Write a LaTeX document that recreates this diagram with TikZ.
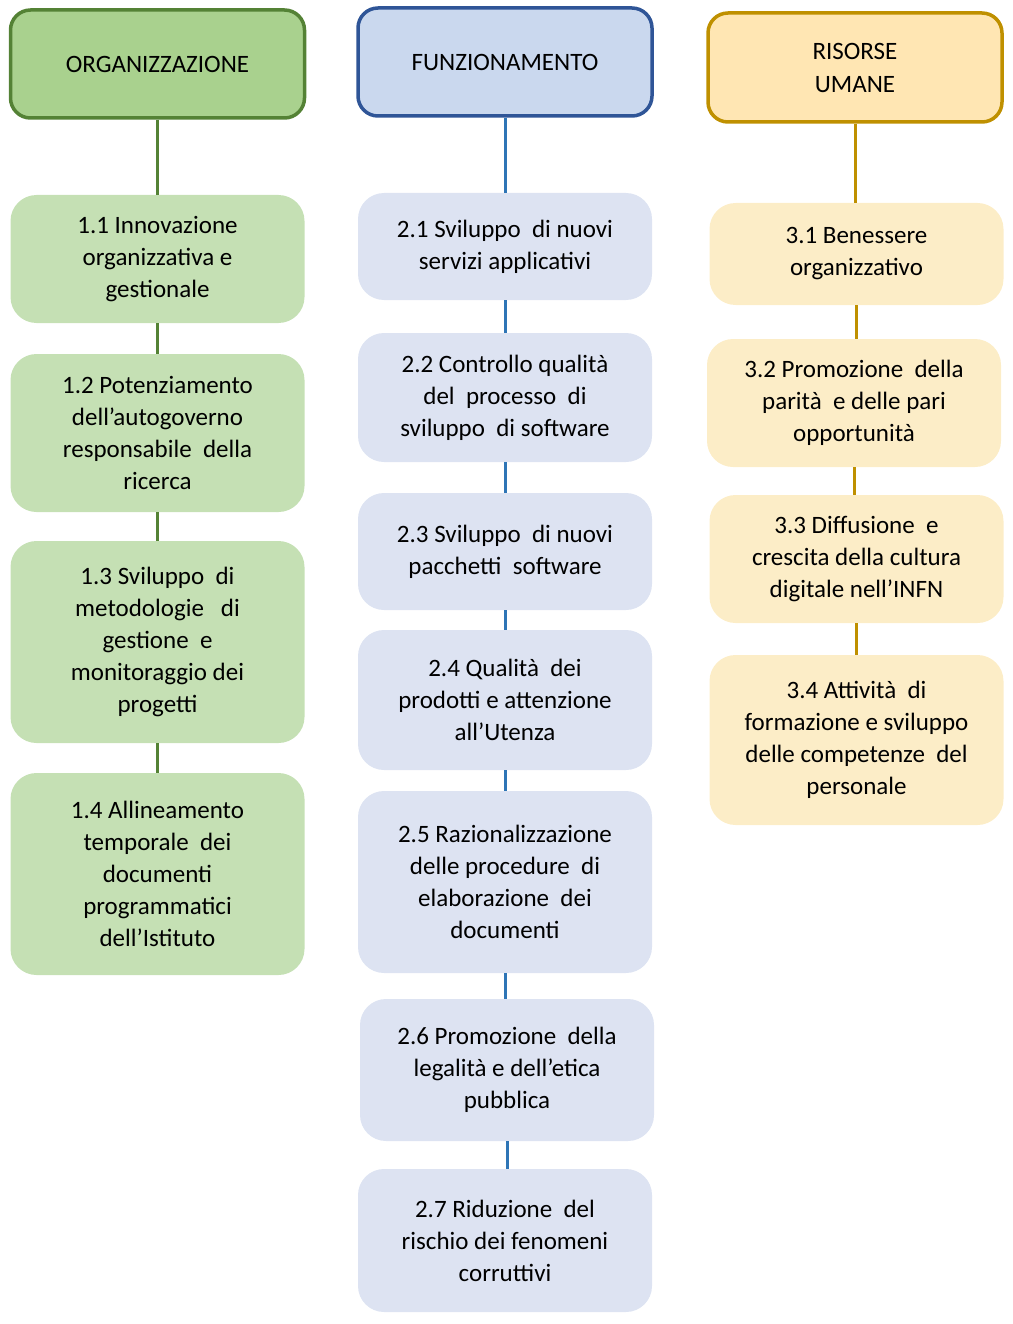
\documentclass[tikz,border=0pt]{standalone}
\usepackage{fontspec}
\setmainfont{Carlito}
\usetikzlibrary{positioning}
\definecolor{orgdark}{HTML}{548235}
\definecolor{orghead}{HTML}{A9D18E}
\definecolor{orgbox}{HTML}{C5E0B4}
\definecolor{fundark}{HTML}{2F5597}
\definecolor{funline}{HTML}{2E75B6}
\definecolor{funhead}{HTML}{CAD8EE}
\definecolor{funbox}{HTML}{DDE3F2}
\definecolor{risdark}{HTML}{BF9000}
\definecolor{rishead}{HTML}{FFE6B3}
\definecolor{risbox}{HTML}{FCEDC7}
\tikzset{
		head/.style={rounded corners=20pt, line width=3.5pt, align=center,
			minimum width=294pt, font=\fontsize{25}{33}\selectfont},
		item/.style={rounded corners=26pt, align=center, inner sep=0pt,
			minimum width=294pt, font=\fontsize{25}{32}\selectfont},
		link/.style={line width=3pt},
		}
\begin{document}
\begin{tikzpicture}[x=1pt,y=-1pt]
		\useasboundingbox (0,0) rectangle (1012,1324);

		% testate
		\node[head, draw=orgdark, fill=orghead, minimum height=108pt] (org) at (157.5,64) {ORGANIZZAZIONE};
		\node[head, draw=fundark, fill=funhead, minimum height=108pt] (fun) at (505,62) {FUNZIONAMENTO};
		\node[head, draw=risdark, fill=rishead, minimum height=109pt] (ris) at (855,67.5) {RISORSE\\UMANE};

		% organizzazione
		\node[item, fill=orgbox, minimum height=128pt] (o1) at (157.5,259) {1.1 Innovazione\\organizzativa e\\gestionale};
		\node[item, fill=orgbox, minimum height=158pt] (o2) at (157.5,433) {1.2 Potenziamento\\dell’autogoverno\\responsabile\ \ della\\ricerca};
		\node[item, fill=orgbox, minimum height=202pt] (o3) at (157.5,642) {1.3 Sviluppo\ \ di\\metodologie\ \ \ di\\gestione\ \ e\\monitoraggio dei\\progetti};
		\node[item, fill=orgbox, minimum height=202pt] (o4) at (157.5,874) {1.4 Allineamento\\temporale\ \ dei\\documenti\\programmatici\\dell’Istituto};

		% funzionamento
		\node[item, fill=funbox, minimum height=107pt] (f1) at (505,246.5) {2.1 Sviluppo\ \ di nuovi\\servizi applicativi};
		\node[item, fill=funbox, minimum height=129pt] (f2) at (505,397.5) {2.2 Controllo qualità\\del\ \ processo\ \ di\\sviluppo\ \ di software};
		\node[item, fill=funbox, minimum height=117pt] (f3) at (505,551.5) {2.3 Sviluppo\ \ di nuovi\\pacchetti\ \ software};
		\node[item, fill=funbox, minimum height=140pt] (f4) at (505,700) {2.4 Qualità\ \ dei\\prodotti e attenzione\\all’Utenza};
		\node[item, fill=funbox, minimum height=182pt] (f5) at (505,882) {2.5 Razionalizzazione\\delle procedure\ \ di\\elaborazione\ \ dei\\documenti};
		\node[item, fill=funbox, minimum height=142pt] (f6) at (507,1070) {2.6 Promozione\ \ della\\legalità e dell’etica\\pubblica};
		\node[item, fill=funbox, minimum height=143pt] (f7) at (505,1240.5) {2.7 Riduzione\ \ del\\rischio dei fenomeni\\corruttivi};

		% risorse umane
		\node[item, fill=risbox, minimum height=102pt] (r1) at (856.5,254) {3.1 Benessere\\organizzativo};
		\node[item, fill=risbox, minimum height=128pt] (r2) at (854,403) {3.2 Promozione\ \ della\\parità\ \ e delle pari\\opportunità};
		\node[item, fill=risbox, minimum height=128pt] (r3) at (856.5,559) {3.3 Diffusione\ \ e\\crescita della cultura\\digitale nell’INFN};
		\node[item, fill=risbox, minimum height=170pt] (r4) at (856.5,740) {3.4 Attività\ \ di\\formazione e sviluppo\\delle competenze\ \ del\\personale};

		% collegamenti
		\foreach \a/\b in {org/o1,o1/o2,o2/o3,o3/o4}
			\draw[link, orgdark] (\a.south) -- (\a.south |- \b.north);
		\foreach \a/\b in {fun/f1,f1/f2,f2/f3,f3/f4,f4/f5,f5/f6,f6/f7}
			\draw[link, funline] (\a.south) -- (\a.south |- \b.north);
		\foreach \a/\b in {ris/r1,r1/r2,r2/r3,r3/r4}
			\draw[link, risdark] (\a.south) -- (\a.south |- \b.north);

	\end{tikzpicture}
\end{document}
